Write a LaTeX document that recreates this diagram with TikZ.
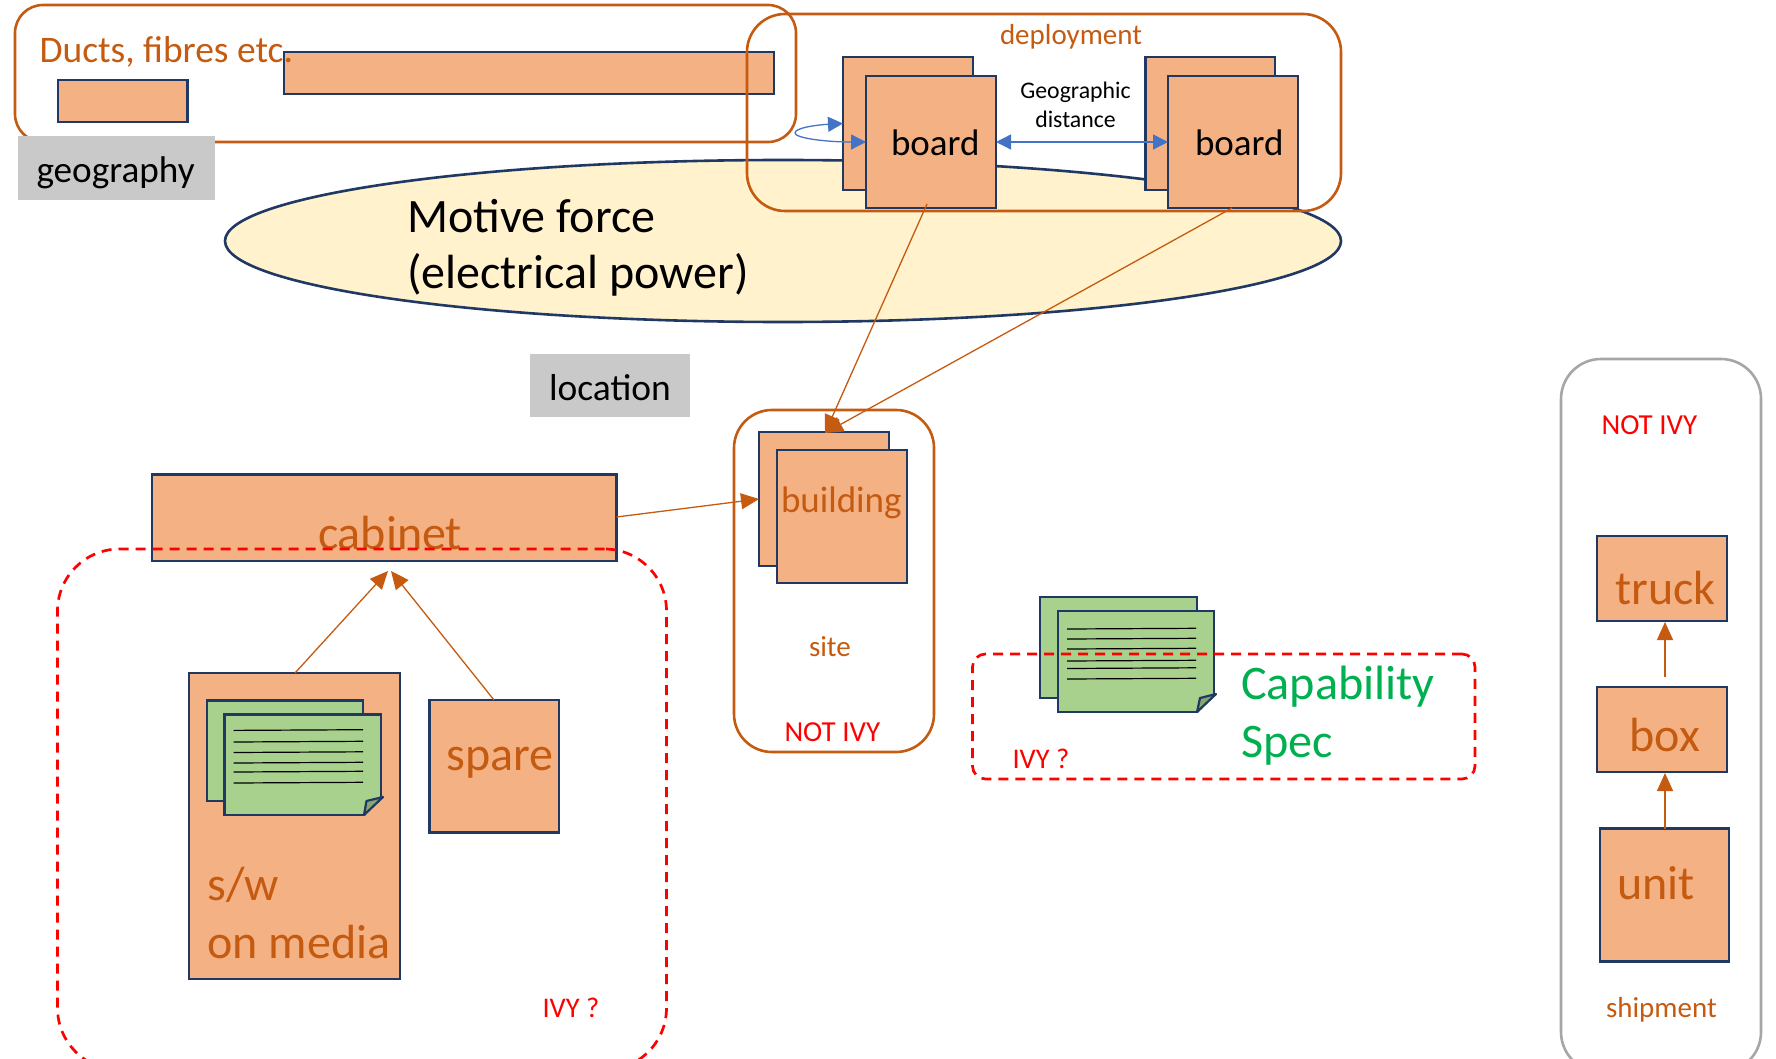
\documentclass[tikz,border=0pt]{standalone}
\usepackage{fontspec}
\setmainfont{Carlito}
\usetikzlibrary{arrows.meta,shapes.geometric}
\definecolor{navy}{HTML}{203864}
\definecolor{peach}{HTML}{F4B183}
\definecolor{rust}{HTML}{C55A11}
\definecolor{cream}{HTML}{FFF2CC}
\definecolor{leaf}{HTML}{A9D18E}
\definecolor{greyfill}{HTML}{C9C9C9}
\definecolor{greyline}{HTML}{A6A6A6}
\definecolor{linkblue}{HTML}{4472C4}
\definecolor{ivygreen}{HTML}{00B050}
\newcommand{\bx}[6]{\node[rectangle,inner sep=0pt,outer sep=0pt,minimum width={(#4-#2)*1pt},minimum height={(#5-#3)*1pt},#6] (#1) at ({(#2+#4)/2},{(#3+#5)/2}) {};}
\newcommand{\lab}[6]{\node[anchor=base west,inner sep=0pt,outer sep=0pt,text=#5,align=left,font=\fontsize{#4}{58}\selectfont] (#1) at (#2,#3) {#6};}
\tikzset{
  solidbox/.style={draw=navy,fill=peach,line width=2.8pt},
  paper/.style={draw=navy,fill=leaf,line width=2.6pt},
  greytag/.style={fill=greyfill},
  rustframe/.style={draw=rust,line width=2.6pt},
  ivyframe/.style={draw=red,line width=2.7pt,dash pattern=on 10pt off 7pt},
  rule/.style={draw=black,line width=1.2pt},
  link/.style={draw=rust,line width=1.3pt,-{Triangle[length=18pt,width=16pt,fill=rust]}},
  near/.style={draw=linkblue,line width=1.3pt,{Triangle[length=15pt,width=15pt,fill=linkblue]}-{Triangle[length=15pt,width=15pt,fill=linkblue]}},
}
\begin{document}
\begin{tikzpicture}[x=1pt,y=-1pt]
\clip (0,0) rectangle (1776,1059);
% ducts
\bx{ducts}{15}{5}{796}{142}{rustframe,rounded corners=28pt}
\bx{smallduct}{58}{80}{187.5}{122}{solidbox}
\bx{longduct}{284}{52}{774}{94}{solidbox}
\lab{ductstext}{39.5}{62.5}{37.5}{rust}{Ducts, fibres etc.}
\bx{geotag}{17.5}{136}{214.5}{200}{greytag}
\lab{geotext}{36.5}{183}{37.2}{black}{geography}
% motive force
\node[ellipse,draw=navy,fill=cream,line width=2.6pt,inner sep=0pt,minimum width=1116pt,minimum height=162pt] (motive) at (783,241) {};
\lab{motivetext}{407}{288}{48}{black}{Motive force\\[-2pt](electrical power)}
\bx{loctag}{530}{354}{690}{417}{greytag}
\lab{loctext}{549}{400.5}{37.5}{black}{location}
% deployment
\bx{deploy}{747}{14}{1341}{211}{rustframe,rounded corners=38pt}
\lab{deploytext}{1000}{45}{29}{rust}{deployment}
\bx{boardAback}{843}{57}{973}{190}{solidbox}
\bx{boardA}{866}{76}{996}{208}{solidbox}
\bx{boardBback}{1145.5}{57}{1275}{190}{solidbox}
\bx{boardB}{1168}{76}{1298}{208}{solidbox}
\lab{boardAtext}{891}{156}{37}{black}{board}
\lab{boardBtext}{1195}{156}{37}{black}{board}
\node[anchor=base,inner sep=0pt,align=center,font=\fontsize{23.8}{29}\selectfont] (geodist) at (1075.5,128) {Geographic\\distance};
\draw[near] (boardA.east) -- (boardB.west);
\draw[near] (boardAback.west) .. controls (815,125) and (795,128) .. (795,133) .. controls (795,138) and (825,142) .. (boardA.west);
% site
\bx{site}{734}{410}{934}{752}{rustframe,rounded corners=38pt}
\bx{buildback}{759}{432}{889}{566}{solidbox}
\bx{build}{777}{450}{907}{583}{solidbox}
\lab{buildtext}{781}{512.5}{37}{rust}{building}
\lab{sitetext}{809}{656}{29}{rust}{site}
\lab{siteivy}{784.5}{741}{29}{red}{NOT IVY}
% cabinet group
\bx{cabinet}{152}{474.5}{616.5}{561}{solidbox}
\lab{cabtext}{318}{549.5}{48}{rust}{cabinet}
\bx{media}{189}{673}{400}{979}{solidbox}
\bx{spare}{429.5}{700}{559}{832.5}{solidbox}
\lab{sparetext}{446.5}{770.5}{48}{rust}{spare}
\lab{mediatext}{207.5}{958.5}{48}{rust}{s/w\\on media}
\bx{docAback}{207}{700.5}{363}{801}{paper}
\bx{docA}{224.5}{714.5}{381}{815}{paper}
\foreach \i/\y in {1/730.4,2/742,3/752.5,4/763,5/772,6/783}
  \draw[rule] (233.5,\y) -- (363,\y-0.7);
\fill[peach] (364.5,816.5) -- (383.5,796.5) -- (383.5,816.5) -- cycle;
\draw[navy,line width=2.2pt,fill=leaf!80!black,line join=round] (364,815) -- (366.5,801) -- (383,797) -- cycle;
\bx{ivyA}{57.5}{549}{666.5}{1070}{ivyframe,rounded corners=62pt}
\lab{ivyAtext}{542.5}{1017}{28.5}{red}{IVY ?}
% capability
\bx{docBback}{1040}{597}{1197}{698}{paper}
\bx{docB}{1058}{611}{1214}{712}{paper}
\foreach \i/\y in {1/629,2/639,3/649,4/661,5/668.5,6/679}
  \draw[rule] (1067,\y) -- (1196,\y-0.7);
\fill[white] (1197.5,713.5) -- (1216.5,693.5) -- (1216.5,713.5) -- cycle;
\draw[navy,line width=2.2pt,fill=leaf!80!black,line join=round] (1197,712) -- (1200,698) -- (1216,694) -- cycle;
\bx{ivyB}{972.5}{654}{1475}{779}{ivyframe,rounded corners=13pt}
\lab{ivyBtext}{1012.5}{768}{28.5}{red}{IVY ?}
\lab{captext}{1241}{757.5}{48.2}{ivygreen}{Capability\\Spec}
% shipment
\bx{ship}{1561}{359}{1761}{1072}{draw=greyline,line width=2.6pt,rounded corners=40pt}
\lab{shipivy}{1601.5}{434}{29}{red}{NOT IVY}
\bx{truck}{1597}{536}{1727}{621}{solidbox}
\bx{box}{1597}{687}{1727}{772}{solidbox}
\bx{unit}{1600}{828.5}{1729}{961.5}{solidbox}
\lab{trucktext}{1615.5}{604.5}{48}{rust}{truck}
\lab{boxtext}{1629.5}{751.5}{48}{rust}{box}
\lab{unittext}{1617}{899.5}{48}{rust}{unit}
\lab{shiptext}{1606}{1017}{29}{rust}{shipment}
% connectors
\coordinate (fromA) at (927,204);
\coordinate (fromB) at (1232,208);
\coordinate (intoBuild) at (825,433);
\coordinate (cabOut) at (616.5,517);
\coordinate (intoBack) at (759,499);
\coordinate (fromMedia) at (295,673);
\coordinate (fromSpare) at (494,700);
\coordinate (cabIn1) at (388,571);
\coordinate (cabIn2) at (391,571);
\coordinate (fromBox) at (1665,677);
\coordinate (truckIn) at (1665,622);
\coordinate (unitOut) at (1665,828.5);
\coordinate (boxIn) at (1665,773);
\draw[link] (fromA) -- (intoBuild);
\draw[link] (fromB) -- (intoBuild);
\draw[link] (cabOut) -- (intoBack);
\draw[link] (fromMedia) -- (cabIn1);
\draw[link] (fromSpare) -- (cabIn2);
\draw[link] (fromBox) -- (truckIn);
\draw[link] (unitOut) -- (boxIn);
\end{tikzpicture}
\end{document}
